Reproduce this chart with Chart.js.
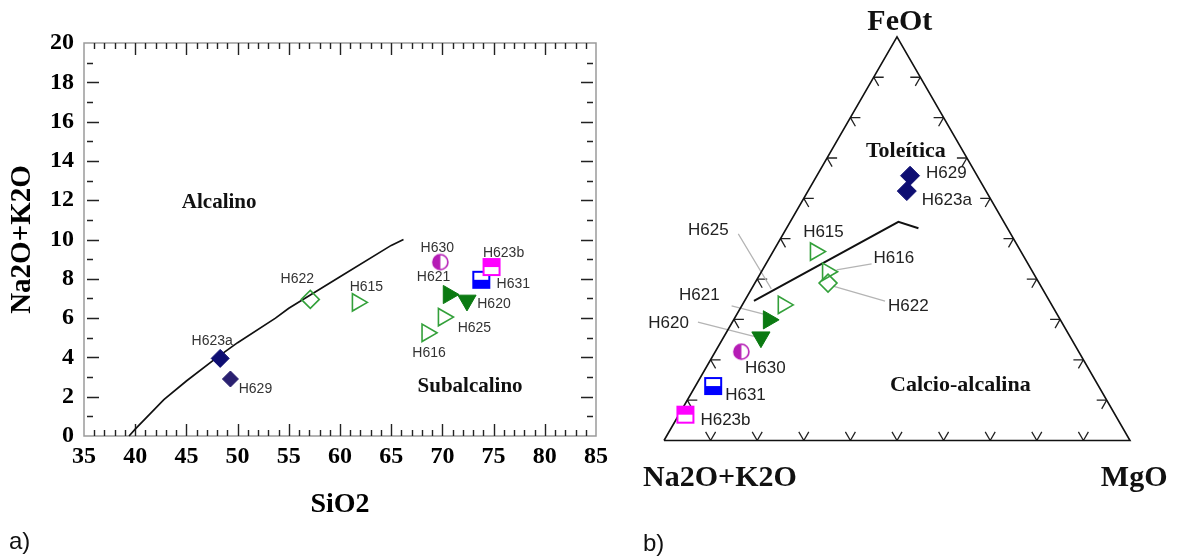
<!DOCTYPE html>
<html><head><meta charset="utf-8">
<script src="https://cdn.jsdelivr.net/npm/chart.js@4.4.1/dist/chart.umd.min.js"></script>
<style>
html,body{margin:0;padding:0;background:#fff;}
#wrap{position:relative;width:1178px;height:558px;overflow:hidden;background:#fff;}
canvas{position:absolute;top:0;}
#c1{left:0;width:620px;height:558px;}
#c2{left:620px;width:558px;height:558px;}
.panel{position:absolute;font-family:"Liberation Sans",Arial,sans-serif;font-size:24px;color:#111;line-height:1;}
</style></head><body>
<div id="wrap">
<canvas id="c1" width="620" height="558"></canvas>
<canvas id="c2" width="558" height="558"></canvas>
<div class="panel" style="left:9px;top:529px;">a)</div>
<div class="panel" style="left:643px;top:531px;">b)</div>
</div>
<script>
// ---------------- DATA ----------------
const samples = ['H615','H616','H620','H621','H622','H623a','H623b','H625','H629','H630','H631'];
// TAS diagram (wt%)
const sio2    = [61.7, 68.5, 72.4, 70.6, 57.1, 48.3, 74.8, 70.1, 49.3, 69.8, 73.8];
const alkalis = [6.8,  5.25, 6.9,  7.2,  6.95, 3.95, 8.6,  6.05, 2.9,  8.85, 7.95];
// AFM ternary (normalised %)
const afmA = [44.1, 44.0, 66.4, 62.6, 45.3, 17.0, 92.2, 57.6, 14.4, 72.4, 82.7];
const afmF = [46.8, 41.8, 25.6, 29.9, 39.0, 61.8,  6.4, 33.6, 65.6, 22.0, 13.5];
const afmM = [ 9.1, 14.2,  8.0,  7.5, 15.7, 21.2,  1.4,  8.8, 20.0,  5.6,  3.8];
// boundary lines
const tasBoundarySiO2 = [39.4, 40.0, 42.8, 45.0, 48.0, 50.0, 53.7, 55.0, 60.0, 65.0, 66.2];
const tasBoundaryAlk  = [0.0, 0.35, 1.85, 2.8, 4.0, 4.75, 6.0, 6.5, 8.1, 9.7, 10.0];
const afmBoundaryA = [63.4, 22.6, 19.1];
const afmBoundaryF = [34.6, 54.2, 52.6];
const afmBoundaryM = [2.0, 23.2, 28.3];
// tick labels
const tasXTicks = [35, 40, 45, 50, 55, 60, 65, 70, 75, 80, 85];
const tasYTicks = [0, 2, 4, 6, 8, 10, 12, 14, 16, 18, 20];
// texts
const tasXTitle = 'SiO2', tasYTitle = 'Na2O+K2O';
const tasRegionText = ['Alcalino', 'Subalcalino'];
const afmApexText = ['Na2O+K2O', 'FeOt', 'MgO'];
const afmRegionText = ['Toleítica', 'Calcio-alcalina'];

// ---------------- STYLE ----------------
Chart.defaults.animation = false;
const GREEN_OPEN = '#33a03a', GREEN_FILL = '#0b7a12', NAVY = '#0e0e72';
const markerStyle = {
  H615:{shape:'triangle', rot:90, fill:false, color:GREEN_OPEN, r:10},
  H616:{shape:'triangle', rot:90, fill:false, color:GREEN_OPEN, r:10},
  H625:{shape:'triangle', rot:90, fill:false, color:GREEN_OPEN, r:10},
  H621:{shape:'triangle', rot:90, fill:true, color:GREEN_FILL, r:10.5},
  H620:{shape:'triangle', rot:180, fill:true, color:GREEN_FILL, r:10.5},
  H622:{shape:'rectRot', rot:0, fill:false, color:GREEN_OPEN, r:9},
  H623a:{shape:'rectRot', rot:0, fill:true, color:NAVY, r:9},
  H629:{shape:'rectRot', rot:0, fill:true, color:'#2a2070', r:8},
  H630:{shape:'halfCircle', color:'#b51cb5', r:7.5},
  H631:{shape:'halfSquareBottom', color:'#0000ff', r:8},
  H623b:{shape:'halfSquareTop', color:'#ff00ff', r:8}
};
// ternary-panel overrides
const afmStyleOverride = {
  H629:{color:NAVY, r:9.5}, H623a:{r:9.5}
};
// label offsets (px from marker) : dx, dy, align
const tasLabelPos = {
  H615:[9,-15,'center'], H616:[2,20,'center'], H620:[27,4,'center'], H621:[-15,-17,'center'],
  H622:[-13,-20,'center'], H623a:[-8,-17,'center'], H623b:[12,-14,'center'], H625:[31,11,'center'],
  H629:[25,10,'center'], H630:[-3,-14,'center'], H631:[32,4,'center']
};
const afmLabelPos = {
  H615:[8,-19,'center'], H616:[46,-13,'left'], H620:[-72,-14,'right'], H621:[-49,-25,'right'],
  H622:[60,23,'left'], H623a:[15,9,'left'], H623b:[15,6,'left'], H625:[-75,-75,'center'],
  H629:[16,-2,'left'], H630:[24,17,'center'], H631:[12,9,'left']
};
const afmLeaders = {
  H625:[-45,-71,-12,-16], H616:[9,-2,44,-8], H622:[5,3,57,18], H621:[-37,-14,-2,-5], H620:[-63,-15,-4,0]
};

function halfCircle(color, r) {
  const s = Math.ceil(2*r + 4), c = document.createElement('canvas');
  c.width = c.height = s; const g = c.getContext('2d'), m = s/2;
  g.fillStyle = '#fff'; g.beginPath(); g.arc(m,m,r,0,Math.PI*2); g.fill();
  g.fillStyle = color; g.beginPath(); g.moveTo(m,m-r); g.arc(m,m,r,-Math.PI/2,Math.PI/2,true); g.closePath(); g.fill();
  g.strokeStyle = color; g.lineWidth = 1.6; g.beginPath(); g.arc(m,m,r,0,Math.PI*2); g.stroke();
  return c;
}
function halfSquare(color, half, topFilled) {
  const s = Math.ceil(2*half + 4), c = document.createElement('canvas');
  c.width = c.height = s; const g = c.getContext('2d'), o = (s - 2*half)/2;
  g.fillStyle = '#fff'; g.fillRect(o,o,2*half,2*half);
  g.fillStyle = color;
  if (topFilled) g.fillRect(o,o,2*half,half); else g.fillRect(o,o+half,2*half,half);
  g.strokeStyle = color; g.lineWidth = 2; g.strokeRect(o,o,2*half,2*half);
  return c;
}
function markerProps(s, override) {
  const st = Object.assign({}, markerStyle[s], (override || {})[s] || {});
  if (st.shape === 'halfCircle') return {pointStyle: halfCircle(st.color, st.r), pointRadius: st.r, pointRotation: 0, borderWidth: 0};
  if (st.shape === 'halfSquareBottom') return {pointStyle: halfSquare(st.color, st.r, false), pointRadius: st.r, pointRotation: 0, borderWidth: 0};
  if (st.shape === 'halfSquareTop') return {pointStyle: halfSquare(st.color, st.r, true), pointRadius: st.r, pointRotation: 0, borderWidth: 0};
  return {pointStyle: st.shape, pointRadius: st.r, pointRotation: st.rot,
          pointBackgroundColor: st.fill ? st.color : 'rgba(0,0,0,0)', pointBorderColor: st.color,
          pointBorderWidth: st.fill ? 1 : 1.6};
}
function markerDatasets(points, override) {
  return samples.map((s, i) => Object.assign({label: s, data: [points[i]], order: 0, clip: false,
    showLine: false, pointHoverRadius: 0}, markerProps(s, override)));
}
function drawLabel(ctx, text, x, y, align) {
  ctx.textAlign = align; ctx.fillText(text, x, y);
}

// ---------------- LEFT: TAS ----------------
const tasPoints = samples.map((s, i) => ({x: sio2[i], y: alkalis[i]}));
const tasRegions = [{text: tasRegionText[0], x: 48.2, y: 11.9}, {text: tasRegionText[1], x: 72.7, y: 2.5}];
const tasDecor = {
  id: 'tasDecor',
  beforeDatasetsDraw(chart) {
    const {ctx, chartArea: a, scales: {x, y}} = chart;
    ctx.save();
    ctx.strokeStyle = '#9a9a9a'; ctx.lineWidth = 1.5;
    ctx.strokeRect(a.left, a.top, a.right - a.left, a.bottom - a.top);
    ctx.strokeStyle = '#222'; ctx.lineWidth = 1.4;
    ctx.beginPath();
    for (let v = x.min + 1; v < x.max; v++) {
      const px = Math.round(x.getPixelForValue(v)) + 0.5, L = v % 5 === 0 ? 12 : 6;
      ctx.moveTo(px, a.top); ctx.lineTo(px, a.top + L);
      ctx.moveTo(px, a.bottom); ctx.lineTo(px, a.bottom - L);
    }
    for (let v = y.min + 1; v < y.max; v++) {
      const py = Math.round(y.getPixelForValue(v)) + 0.5, L = v % 2 === 0 ? 12 : 6;
      ctx.moveTo(a.left + 3, py); ctx.lineTo(a.left + 3 + L, py);
      ctx.moveTo(a.right - 3, py); ctx.lineTo(a.right - 3 - L, py);
    }
    ctx.stroke();
    ctx.fillStyle = '#111'; ctx.font = 'bold 21px "Liberation Serif"'; ctx.textAlign = 'center'; ctx.textBaseline = 'middle';
    tasRegions.forEach(r => ctx.fillText(r.text, x.getPixelForValue(r.x), y.getPixelForValue(r.y)));
    ctx.restore();
  },
  afterDatasetsDraw(chart) {
    const {ctx, scales: {x, y}} = chart;
    ctx.save(); ctx.fillStyle = '#333'; ctx.font = '14px "Liberation Sans"'; ctx.textBaseline = 'middle';
    samples.forEach((s, i) => {
      const p = tasLabelPos[s];
      drawLabel(ctx, s, x.getPixelForValue(sio2[i]) + p[0], y.getPixelForValue(alkalis[i]) + p[1], p[2]);
    });
    ctx.restore();
  }
};
const serifBold = (size) => ({family: '"Liberation Serif", "Times New Roman", serif', weight: 'bold', size});
new Chart(document.getElementById('c1'), {
  type: 'scatter',
  data: {datasets: [...markerDatasets(tasPoints), {
    label: 'boundary', data: tasBoundarySiO2.map((v, i) => ({x: v, y: tasBoundaryAlk[i]})),
    showLine: true, pointRadius: 0, borderColor: '#111', borderWidth: 1.7, tension: 0, order: 1, clip: false}]},
  options: {
    responsive: false, animation: false, events: [],
    layout: {padding: {left: 0, right: 24, top: 43, bottom: 30}, autoPadding: false},
    plugins: {legend: {display: false}, tooltip: {enabled: false}},
    scales: {
      x: {type: 'linear', position: 'bottom', min: 35, max: 85,
        afterBuildTicks: s => { s.ticks = tasXTicks.map(v => ({value: v})); },
        afterFit: s => { s.height = 92; },
        grid: {display: false, drawTicks: false}, border: {display: false},
        ticks: {color: '#000', font: serifBold(24), padding: 6, maxRotation: 0, autoSkip: false},
        title: {display: true, text: tasXTitle, color: '#000', font: serifBold(28), padding: {top: 4, bottom: 6}}},
      y: {type: 'linear', position: 'left', min: 0, max: 20,
        afterBuildTicks: s => { s.ticks = tasYTicks.map(v => ({value: v})); },
        afterFit: s => { s.width = 84; },
        grid: {display: false, drawTicks: false}, border: {display: false},
        ticks: {color: '#000', font: serifBold(24), padding: 10, autoSkip: false},
        title: {display: true, text: tasYTitle, color: '#000', font: serifBold(29), padding: {top: 5, bottom: 4}}}
    }
  },
  plugins: [tasDecor]
});

// ---------------- RIGHT: AFM ternary ----------------
const toXY = (a, f, m) => { const t = a + f + m; return {x: (m + f/2) / t * 100, y: (f * Math.sqrt(3) / 2) / t * 100}; };
const afmPoints = samples.map((s, i) => toXY(afmA[i], afmF[i], afmM[i]));
const afmFrame = [toXY(100,0,0), toXY(0,0,100), toXY(0,100,0), toXY(100,0,0)];
const afmCurve = afmBoundaryA.map((a, i) => toXY(a, afmBoundaryF[i], afmBoundaryM[i]));
const afmTexts = [
  {text: afmApexText[0], x: 12.0, y: -8.1, font: 'bold 30px "Liberation Serif"'},
  {text: afmApexText[1], x: 50.6, y: 89.8, font: 'bold 30px "Liberation Serif"'},
  {text: afmApexText[2], x: 100.9, y: -8.1, font: 'bold 30px "Liberation Serif"'},
  {text: afmRegionText[0], x: 51.9, y: 62.1, font: 'bold 22px "Liberation Serif"'},
  {text: afmRegionText[1], x: 63.6, y: 11.8, font: 'bold 22px "Liberation Serif"'}
];
const afmDecor = {
  id: 'afmDecor',
  beforeDatasetsDraw(chart) {
    const {ctx, scales: {x, y}} = chart;
    const P = (a, f, m) => { const q = toXY(a, f, m); return [x.getPixelForValue(q.x), y.getPixelForValue(q.y)]; };
    const L = 10;
    ctx.save(); ctx.strokeStyle = '#222'; ctx.lineWidth = 1.3; ctx.beginPath();
    const arm = (p, deg) => { const r = deg * Math.PI / 180; ctx.moveTo(p[0], p[1]); ctx.lineTo(p[0] + L*Math.cos(r), p[1] - L*Math.sin(r)); };
    for (let i = 1; i < 10; i++) {
      const t = i * 10;
      const b = P(100 - t, 0, t); arm(b, 60); arm(b, 120);
      const l = P(100 - t, t, 0); arm(l, 0); arm(l, -60);
      const r = P(0, t, 100 - t); arm(r, 180); arm(r, 240);
    }
    ctx.stroke();
    // leader lines
    ctx.strokeStyle = '#b4b4b4'; ctx.lineWidth = 1.2; ctx.beginPath();
    samples.forEach((s, i) => {
      const d = afmLeaders[s]; if (!d) return;
      const px = x.getPixelForValue(afmPoints[i].x), py = y.getPixelForValue(afmPoints[i].y);
      ctx.moveTo(px + d[0], py + d[1]); ctx.lineTo(px + d[2], py + d[3]);
    });
    ctx.stroke();
    ctx.fillStyle = '#111'; ctx.textAlign = 'center'; ctx.textBaseline = 'middle';
    afmTexts.forEach(t => { ctx.font = t.font; ctx.fillText(t.text, x.getPixelForValue(t.x), y.getPixelForValue(t.y)); });
    ctx.restore();
  },
  afterDatasetsDraw(chart) {
    const {ctx, scales: {x, y}} = chart;
    ctx.save(); ctx.fillStyle = '#222'; ctx.font = '17px "Liberation Sans"'; ctx.textBaseline = 'middle';
    samples.forEach((s, i) => {
      const p = afmLabelPos[s];
      drawLabel(ctx, s, x.getPixelForValue(afmPoints[i].x) + p[0], y.getPixelForValue(afmPoints[i].y) + p[1], p[2]);
    });
    ctx.restore();
  }
};
new Chart(document.getElementById('c2'), {
  type: 'scatter',
  data: {datasets: [...markerDatasets(afmPoints, afmStyleOverride),
    {label: 'frame', data: afmFrame, showLine: true, pointRadius: 0, borderColor: '#111', borderWidth: 1.6, tension: 0, order: 2, clip: false},
    {label: 'boundary', data: afmCurve, showLine: true, pointRadius: 0, borderColor: '#111', borderWidth: 2, tension: 0, order: 1, clip: false}]},
  options: {
    responsive: false, animation: false, events: [],
    layout: {padding: {left: 44, right: 48, top: 36.9, bottom: 117.5}, autoPadding: false},
    plugins: {legend: {display: false}, tooltip: {enabled: false}},
    scales: {
      x: {type: 'linear', min: 0, max: 100, display: false},
      y: {type: 'linear', min: 0, max: 86.6025, display: false}
    }
  },
  plugins: [afmDecor]
});
</script>
</body></html>
